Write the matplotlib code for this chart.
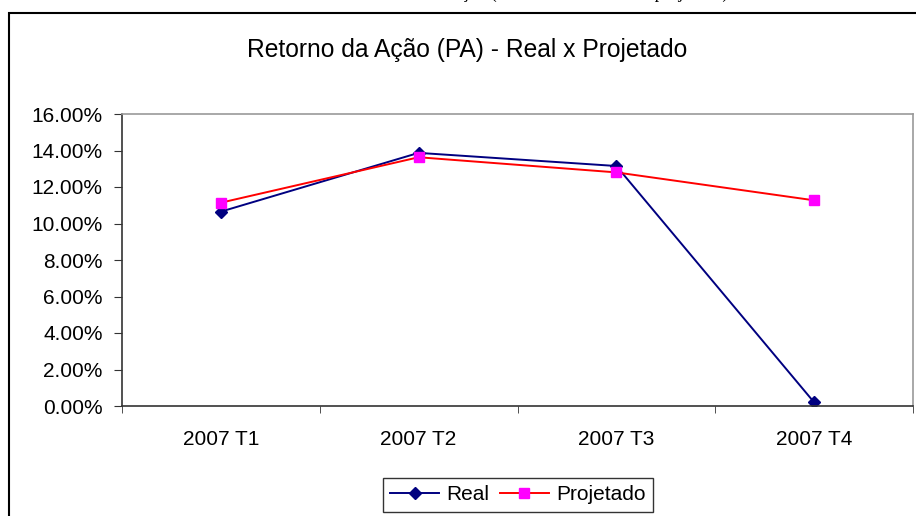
import numpy as np
import matplotlib.pyplot as plt
from matplotlib.patches import Rectangle
from matplotlib.ticker import FixedLocator, FuncFormatter

# dados
trimestres = ["2007 T1", "2007 T2", "2007 T3", "2007 T4"]
real = [10.65, 13.87, 13.15, 0.2]
projetado = [11.14, 13.63, 12.80, 11.27]

plt.rcParams['font.family'] = ['Liberation Sans', 'DejaVu Sans']

W, H = 916, 516
fig = plt.figure(figsize=(W / 100, H / 100), dpi=100)

# moldura do gráfico (cortada à direita e embaixo)
fig.patches.append(Rectangle((9 / W, -0.1), 1.2, 1 - 13 / H + 0.1,
                             transform=fig.transFigure, fill=False,
                             edgecolor='black', linewidth=1.5))

# legenda da figura no documento, quase toda cortada no topo
fig.text(0.55, 1 + 2 / H, "Gráfico 4 – Retorno da Ação (retorno real x retorno projetado)",
         family='Liberation Serif', fontsize=13, ha='center', va='baseline')

ax = fig.add_axes([122 / W, 1 - 406 / H, (913 - 122) / W, (406 - 114) / H])
x = np.arange(len(trimestres))

ax.plot(x, real, color='#000080', marker='D', markersize=6.5, linewidth=1.4,
        label='Real')
ax.plot(x, projetado, color='#ff0000', marker='s', markersize=7,
        markerfacecolor='#ff00ff', markeredgecolor='#ff00ff', linewidth=1.4,
        label='Projetado')

ax.set_xlim(-0.5, len(trimestres) - 0.5)
ax.set_ylim(0, 16)
ax.yaxis.set_major_locator(FixedLocator(np.arange(0, 17, 2)))
ax.yaxis.set_major_formatter(FuncFormatter(lambda v, p: f"{v:.2f}%"))

ax.set_xticks(x)
ax.set_xticklabels(trimestres)
ax.set_xticks(np.arange(-0.5, len(trimestres), 1), minor=True)
ax.tick_params(axis='x', which='major', length=0, pad=17, labelsize=15)
ax.tick_params(axis='x', which='minor', length=5, color='#333333', direction='out')
ax.tick_params(axis='y', length=6, color='#333333', labelsize=15, pad=8)

for s in ['left', 'bottom']:
    ax.spines[s].set_color('#333333')
    ax.spines[s].set_linewidth(1.2)
for s in ['top', 'right']:
    ax.spines[s].set_color('#999999')
    ax.spines[s].set_linewidth(1.2)

fig.text(467 / W, 1 - 57 / H, "Retorno da Ação (PA) - Real x Projetado",
         fontsize=17.7, ha='center', va='baseline')

leg = fig.legend(loc='upper left', bbox_to_anchor=(383 / W, 1 - 478 / H),
                 ncol=2, frameon=True, fancybox=False, edgecolor='black',
                 fontsize=15, handlelength=2.35, columnspacing=0.5,
                 handletextpad=0.35, borderpad=0.35, borderaxespad=0)
leg.get_frame().set_linewidth(1.0)

fig.savefig("out.png", dpi=100)
